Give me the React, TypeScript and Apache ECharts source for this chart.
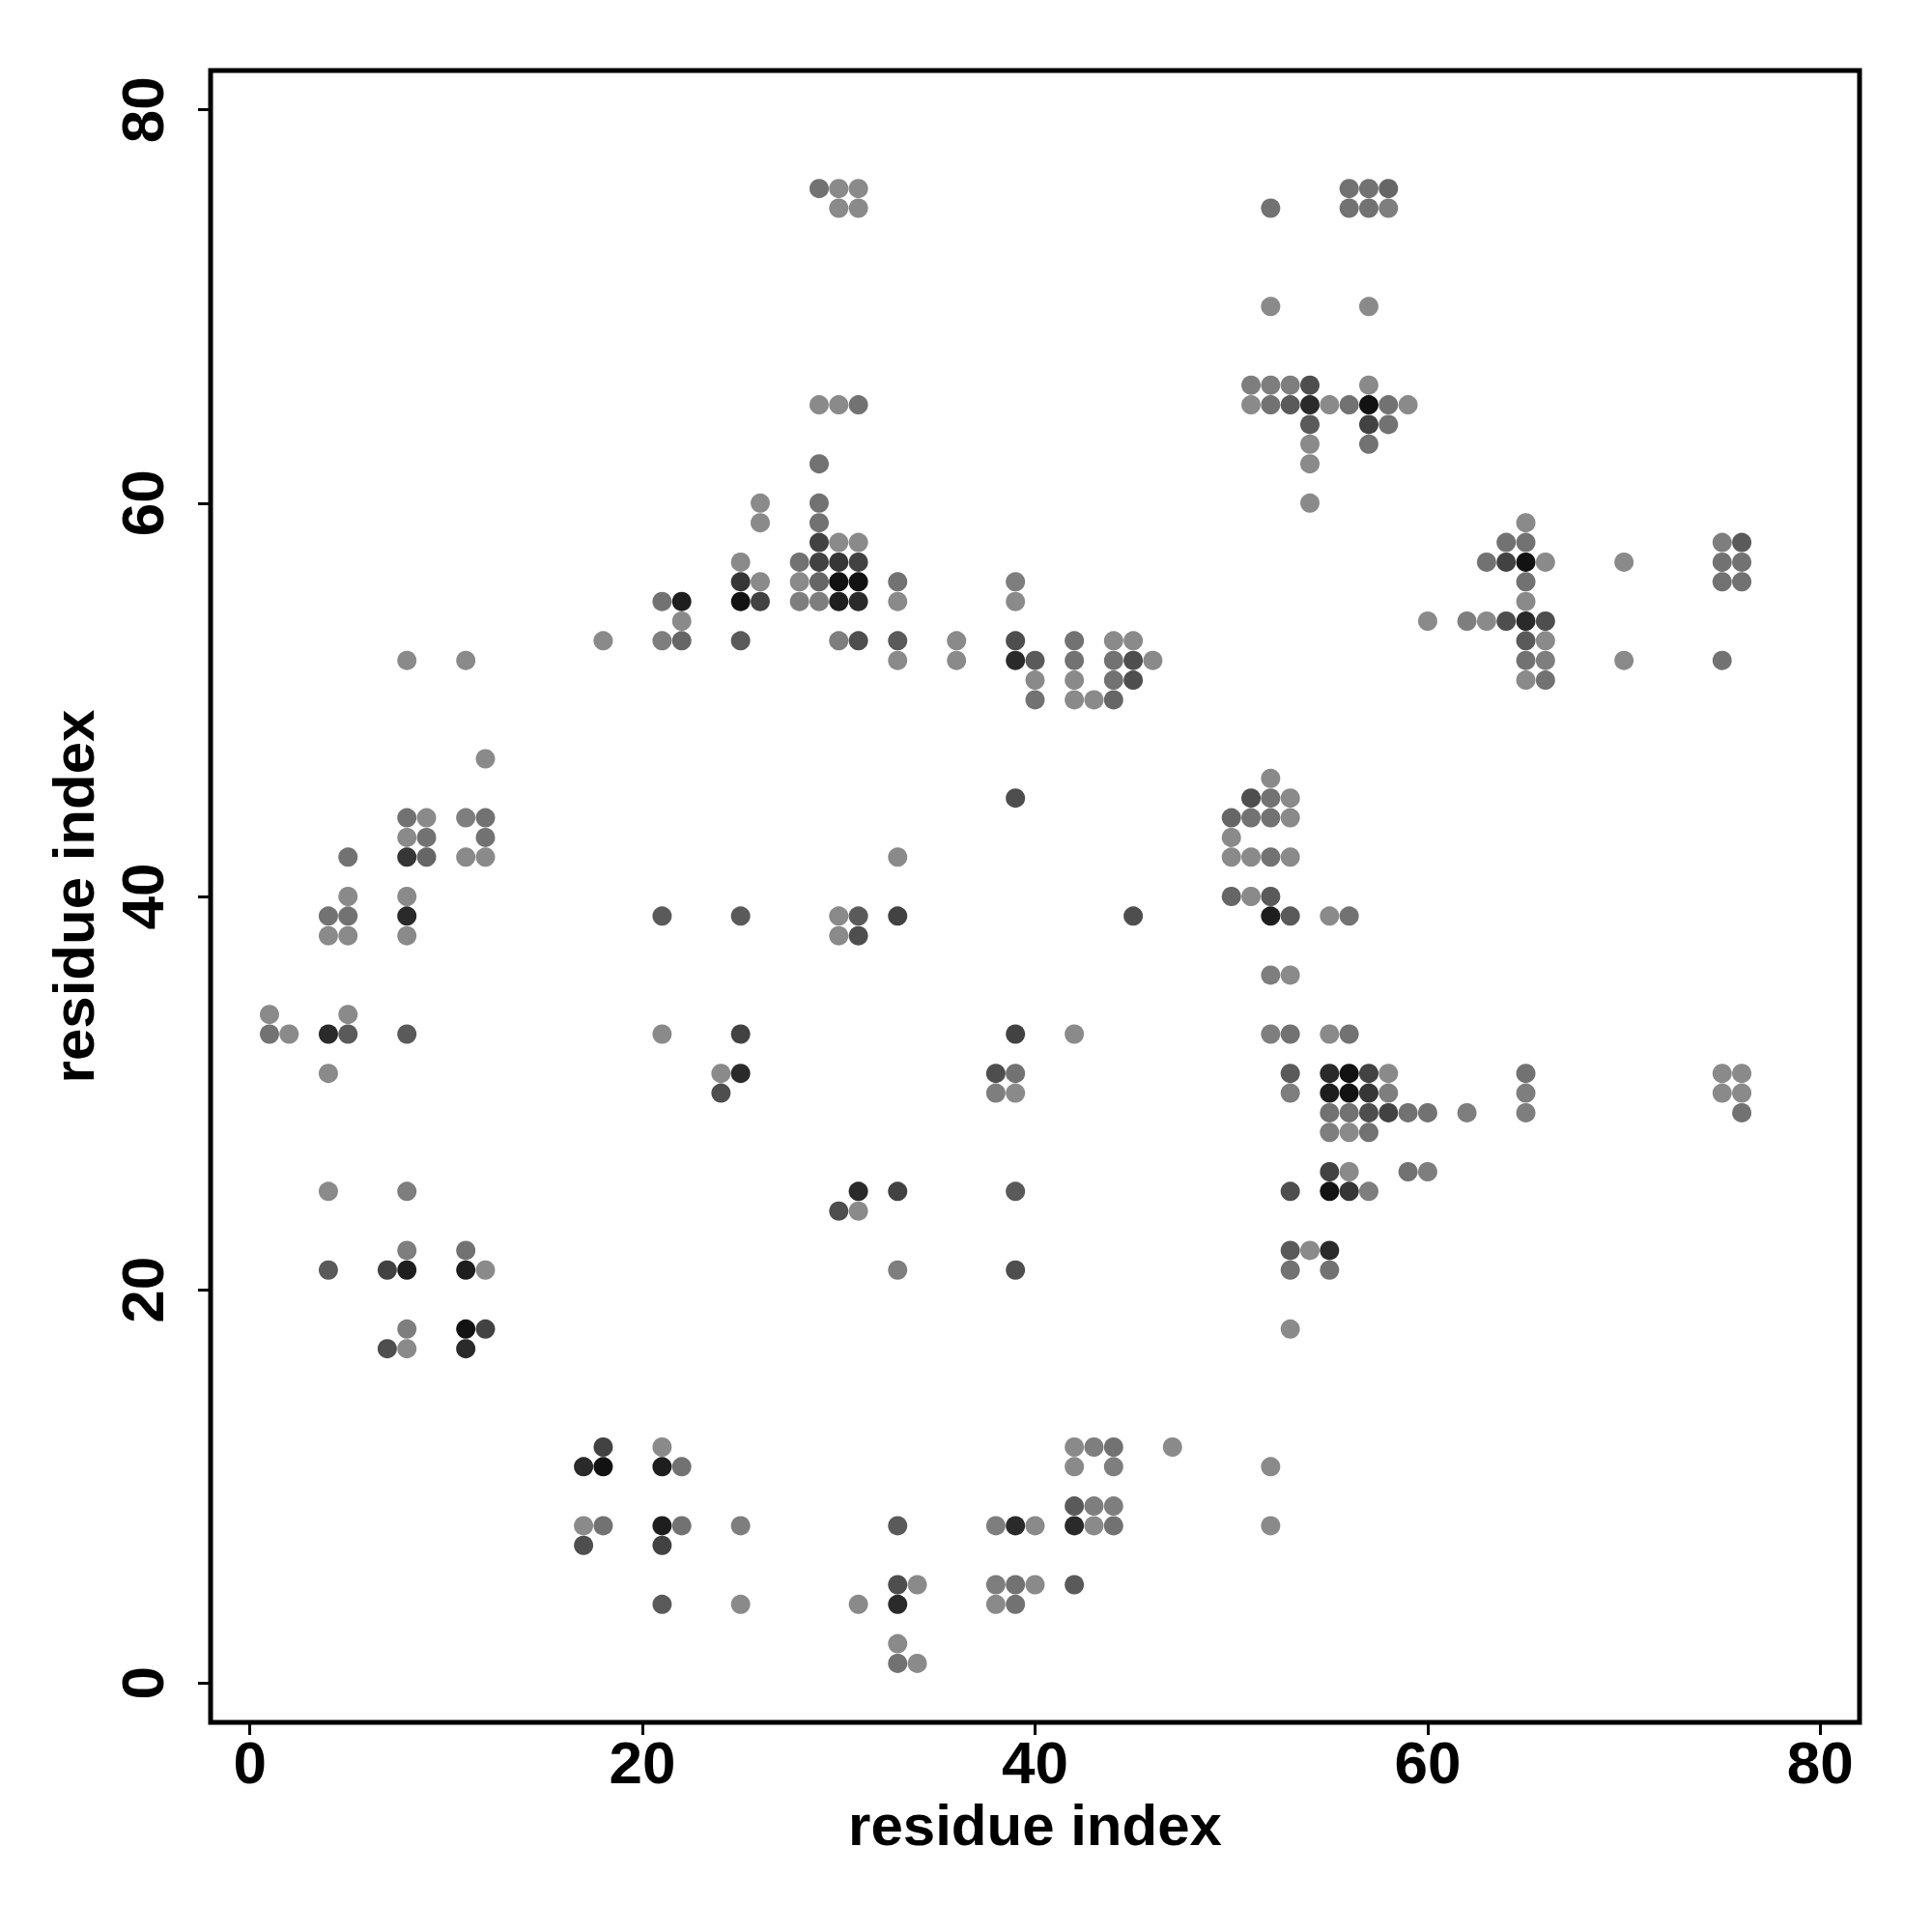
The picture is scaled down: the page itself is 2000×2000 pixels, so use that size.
import React, { useEffect, useRef } from 'react';
import * as echarts from 'echarts';

const axisTicks = [0, 20, 40, 60, 80];
const xTitle = 'residue index';
const yTitle = 'residue index';

// [residue i, residue j, shade level (1 = light grey … 6 = black)]
const contacts: [number, number, number][] = [
  [29, 76, 2], [30, 76, 1], [31, 76, 1], [56, 76, 2], [57, 76, 2], [58, 76, 2.5],
  [30, 75, 1], [31, 75, 1], [52, 75, 2], [56, 75, 2], [57, 75, 2], [58, 75, 1.5],
  [52, 70, 1], [57, 70, 1],
  [51, 66, 1.5], [52, 66, 1.5], [53, 66, 1.5], [54, 66, 3.5], [57, 66, 1],
  [29, 65, 1], [30, 65, 1], [31, 65, 2], [51, 65, 1], [52, 65, 2], [53, 65, 3], [54, 65, 5],
  [55, 65, 1], [56, 65, 2], [57, 65, 6], [58, 65, 2], [59, 65, 1],
  [54, 64, 3], [57, 64, 4], [58, 64, 2],
  [54, 63, 1], [57, 63, 2],
  [29, 62, 2], [54, 62, 1],
  [26, 60, 1], [29, 60, 2], [54, 60, 1],
  [26, 59, 1], [29, 59, 2], [65, 59, 1],
  [29, 58, 4], [30, 58, 1], [31, 58, 1], [64, 58, 2], [65, 58, 2], [75, 58, 1.5], [76, 58, 3],
  [25, 57, 1], [28, 57, 2], [29, 57, 4], [30, 57, 4.5], [31, 57, 4], [63, 57, 2], [64, 57, 4],
  [65, 57, 6], [66, 57, 1], [70, 57, 1], [75, 57, 2], [76, 57, 2],
  [25, 56, 4.5], [26, 56, 1], [28, 56, 1], [29, 56, 2.5], [30, 56, 6], [31, 56, 6], [33, 56, 2],
  [39, 56, 1.5], [65, 56, 2], [75, 56, 2], [76, 56, 2],
  [21, 55, 2], [22, 55, 5.5], [25, 55, 6], [26, 55, 4], [28, 55, 1.5], [29, 55, 1.5], [30, 55, 5.5],
  [31, 55, 5], [33, 55, 1], [39, 55, 1], [65, 55, 1],
  [22, 54, 1], [60, 54, 1], [62, 54, 1.5], [63, 54, 1], [64, 54, 3.5], [65, 54, 5], [66, 54, 3.5],
  [18, 53, 1], [21, 53, 1.5], [22, 53, 2.5], [25, 53, 3], [30, 53, 1.5], [31, 53, 3.5], [33, 53, 3],
  [36, 53, 1], [39, 53, 3.5], [42, 53, 2], [44, 53, 1], [45, 53, 1], [65, 53, 3], [66, 53, 1],
  [8, 52, 1], [11, 52, 1], [33, 52, 1], [36, 52, 1], [39, 52, 5], [40, 52, 3], [42, 52, 2],
  [44, 52, 2], [45, 52, 3.5], [46, 52, 1], [65, 52, 2], [66, 52, 1.5], [70, 52, 1], [75, 52, 2],
  [40, 51, 1], [42, 51, 1], [44, 51, 2], [45, 51, 3.5], [65, 51, 1], [66, 51, 2],
  [40, 50, 2], [42, 50, 1], [43, 50, 1], [44, 50, 2.5],
  [12, 47, 1],
  [52, 46, 1],
  [39, 45, 3.5], [51, 45, 3.5], [52, 45, 2], [53, 45, 1],
  [8, 44, 2], [9, 44, 1], [11, 44, 1.5], [12, 44, 2], [50, 44, 2.5], [51, 44, 2], [52, 44, 2], [53, 44, 1],
  [8, 43, 1], [9, 43, 2], [12, 43, 2], [50, 43, 1],
  [5, 42, 2], [8, 42, 4.5], [9, 42, 2.5], [11, 42, 1], [12, 42, 1], [33, 42, 1], [50, 42, 1],
  [51, 42, 1], [52, 42, 2], [53, 42, 1],
  [5, 40, 1], [8, 40, 1], [50, 40, 2.5], [51, 40, 1], [52, 40, 3],
  [4, 39, 2], [5, 39, 2], [8, 39, 5], [21, 39, 3], [25, 39, 3], [30, 39, 1], [31, 39, 3], [33, 39, 4],
  [45, 39, 3.5], [52, 39, 5.5], [53, 39, 3], [55, 39, 1], [56, 39, 2],
  [4, 38, 1], [5, 38, 1], [8, 38, 1], [30, 38, 1], [31, 38, 3.5],
  [52, 36, 1.5], [53, 36, 1],
  [1, 34, 1], [5, 34, 1],
  [1, 33, 2], [2, 33, 1], [4, 33, 5], [5, 33, 3], [8, 33, 3], [21, 33, 1], [25, 33, 4], [39, 33, 4],
  [42, 33, 1], [52, 33, 1.5], [53, 33, 2], [55, 33, 1], [56, 33, 2],
  [4, 31, 1], [24, 31, 1], [25, 31, 5], [38, 31, 3.5], [39, 31, 2], [53, 31, 3], [55, 31, 5],
  [56, 31, 6], [57, 31, 4], [58, 31, 1], [65, 31, 2], [75, 31, 1], [76, 31, 1],
  [24, 30, 3.5], [38, 30, 1.5], [39, 30, 1], [53, 30, 1.5], [55, 30, 5.5], [56, 30, 6], [57, 30, 4.5],
  [58, 30, 1.5], [65, 30, 1.5], [75, 30, 1], [76, 30, 1],
  [55, 29, 2], [56, 29, 2], [57, 29, 3.5], [58, 29, 4], [59, 29, 2], [60, 29, 2], [62, 29, 1.5],
  [65, 29, 1.5], [76, 29, 2],
  [55, 28, 1.5], [56, 28, 1], [57, 28, 2],
  [55, 26, 4], [56, 26, 1], [59, 26, 2], [60, 26, 1.5],
  [4, 25, 1], [8, 25, 1.5], [31, 25, 5], [33, 25, 4], [39, 25, 3], [53, 25, 3.5], [55, 25, 6],
  [56, 25, 4.5], [57, 25, 1.5],
  [30, 24, 3.5], [31, 24, 1],
  [8, 22, 1.5], [11, 22, 2], [53, 22, 3], [54, 22, 1], [55, 22, 5],
  [4, 21, 3], [7, 21, 4], [8, 21, 5.5], [11, 21, 5.5], [12, 21, 1], [33, 21, 1.5], [39, 21, 3.5],
  [53, 21, 2], [55, 21, 2],
  [8, 18, 1.5], [11, 18, 6], [12, 18, 4], [53, 18, 1],
  [7, 17, 3.5], [8, 17, 1], [11, 17, 5],
  [18, 12, 4], [21, 12, 1], [42, 12, 1], [43, 12, 1.5], [44, 12, 2], [47, 12, 1],
  [17, 11, 5], [18, 11, 6], [21, 11, 5.5], [22, 11, 2], [42, 11, 1], [44, 11, 1.5], [52, 11, 1],
  [42, 9, 3], [43, 9, 1.5], [44, 9, 1.5],
  [17, 8, 1], [18, 8, 2], [21, 8, 5.5], [22, 8, 2], [25, 8, 1.5], [33, 8, 3], [38, 8, 1.5],
  [39, 8, 5], [40, 8, 1], [42, 8, 5], [43, 8, 1], [44, 8, 2], [52, 8, 1],
  [17, 7, 3.5], [21, 7, 4],
  [33, 5, 3.5], [34, 5, 1], [38, 5, 1.5], [39, 5, 2], [40, 5, 1], [42, 5, 3],
  [21, 4, 3], [25, 4, 1], [31, 4, 1], [33, 4, 5], [38, 4, 1], [39, 4, 2],
  [33, 2, 1],
  [33, 1, 2], [34, 1, 1],
];

const shadeRange = ['#8a8a8a', '#121212'];

export default function App() {
  const ref = useRef<HTMLDivElement>(null);
  useEffect(() => {
    if (!ref.current) return;
    const chart = echarts.init(ref.current, null, { renderer: 'svg' });
    const font = '"Liberation Sans", Arial, Helvetica, sans-serif';
    const makeAxis = (name: string, isY: boolean) => ({
      type: 'value',
      min: -2,
      max: 82,
      name,
      nameLocation: 'middle',
      nameGap: isY ? 112 : 76,
      nameTextStyle: { fontFamily: font, fontWeight: 'bold', fontSize: 60, color: '#000' },
      axisLine: { show: false, onZero: false },
      axisTick: {
        show: true,
        length: 13,
        customValues: axisTicks,
        lineStyle: { color: '#000', width: 3 },
      },
      axisLabel: {
        customValues: axisTicks,
        rotate: isY ? 90 : 0,
        margin: isY ? 40 : 10,
        fontFamily: font,
        fontWeight: 'bold',
        fontSize: 62,
        color: '#000',
      },
      splitLine: { show: false },
    });
    chart.setOption({
      animation: false,
      backgroundColor: '#fff',
      grid: {
        left: 218,
        top: 73,
        width: 1707,
        height: 1710,
        show: true,
        borderColor: '#000',
        borderWidth: 5,
        backgroundColor: '#fff',
        containLabel: false,
      },
      xAxis: makeAxis(xTitle, false),
      yAxis: makeAxis(yTitle, true),
      visualMap: {
        show: false,
        type: 'continuous',
        dimension: 2,
        min: 1,
        max: 6,
        inRange: { color: shadeRange },
      },
      series: [
        {
          type: 'scatter',
          data: contacts,
          symbol: 'circle',
          symbolSize: 20,
          itemStyle: { opacity: 1 },
          z: 3,
        },
      ],
    });
    return () => chart.dispose();
  }, []);
  return (
    <div
      ref={ref}
      style={{ position: 'absolute', left: 0, top: 0, width: 2000, height: 2000 }}
    />
  );
}
